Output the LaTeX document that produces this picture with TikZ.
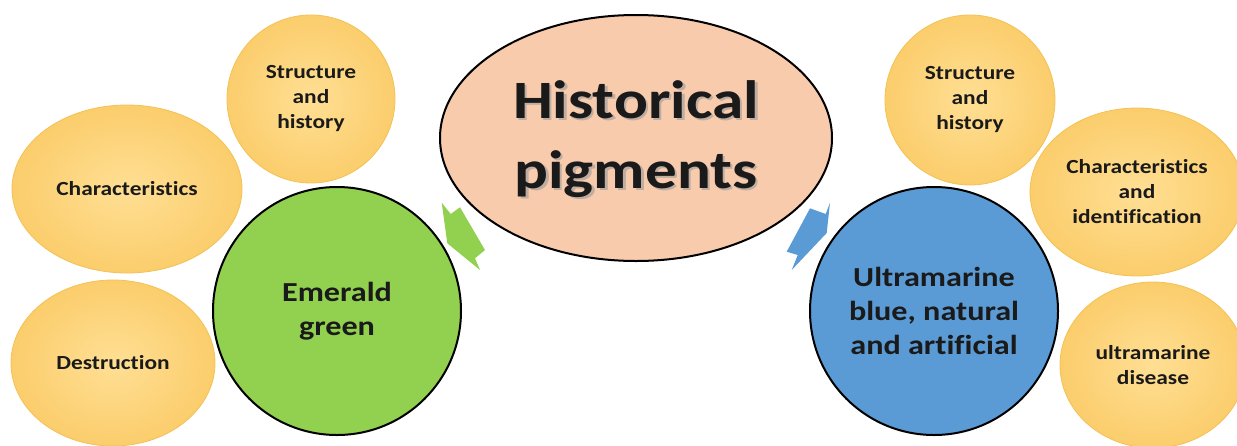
\documentclass[tikz,border=0pt]{standalone}
\usepackage{fontspec}
\setmainfont[Ligatures=NoCommon, FakeStretch=1.17]{Carlito}
\usetikzlibrary{shapes.geometric}

\definecolor{peach}{HTML}{F8CBAD}
\definecolor{leaf}{HTML}{92D050}
\definecolor{sky}{HTML}{5B9BD5}
\definecolor{goldin}{HTML}{FFDF94}
\definecolor{goldout}{HTML}{FBCD6C}
\definecolor{goldedge}{HTML}{F3C255}
\definecolor{ink}{HTML}{1A1A1A}

\tikzset{
  topic/.style={ellipse, inner sep=0pt, shading=radial, inner color=goldin,
    outer color=goldout, draw=goldedge, line width=0.8pt, align=center,
    text=ink, font=\bfseries\fontsize{20}{25}\selectfont},
  hub/.style={ellipse, inner sep=0pt, draw=black, line width=2pt, align=center,
    text=ink, font=\bfseries\fontsize{27.5}{34}\selectfont},
  title/.style={align=center, font=\bfseries\fontsize{54}{70}\selectfont}
}

\begin{document}
\begin{tikzpicture}[x=1pt,y=-1pt]
\path[use as bounding box] (0,0) rectangle (1237,445);
\clip (0,0) rectangle (1237,445);

% central ellipse with shadowed title
\node[hub, fill=peach, minimum width=392pt, minimum height=246pt] (hp) at (636,138) {};
\node[title, text=black!40, opacity=0.6] at (638.5,141.5) {Historical\\pigments};
\node[title, text=ink] (hptxt) at (636,139) {Historical\\pigments};

% left branch
\node[topic, minimum width=168pt, minimum height=168pt] (ls) at (311,99) {Structure\\and\\history};
\node[topic, minimum width=230pt, minimum height=168pt] (lc) at (127,189) {Characteristics};
\node[topic, minimum width=204pt, minimum height=166pt] (ld) at (113,363) {Destruction};
\node[hub, fill=leaf, minimum width=248pt, minimum height=248pt] (eg) at (337,311) {Emerald\\green};

% right branch
\node[topic, minimum width=170pt, minimum height=170pt] (rs) at (970,100) {Structure\\and\\history};
\node[topic, minimum width=214pt, minimum height=168pt] (rc) at (1137,192) {Characteristics\\and\\identification};
\node[topic, minimum width=186pt, minimum height=166pt] (rd) at (1153,365) {ultramarine\\disease};
\node[hub, fill=sky, minimum width=248pt, minimum height=248pt] (ub) at (934,311) {Ultramarine\\blue, natural\\and artificial};

% notched block arrows between the hub and the pigments
\fill[leaf] (441.7,202.7) -- (450.7,214) -- (460,207.3) -- (485,250) -- (475,258.3)
  -- (480,270) -- (447.3,243.3) -- cycle;
\fill[sky] (830,202.7) -- (825.7,214) -- (810,208.3) -- (786.7,251.7) -- (797.7,255)
  -- (791.7,270) -- (826.7,233) -- cycle;
\end{tikzpicture}
\end{document}
